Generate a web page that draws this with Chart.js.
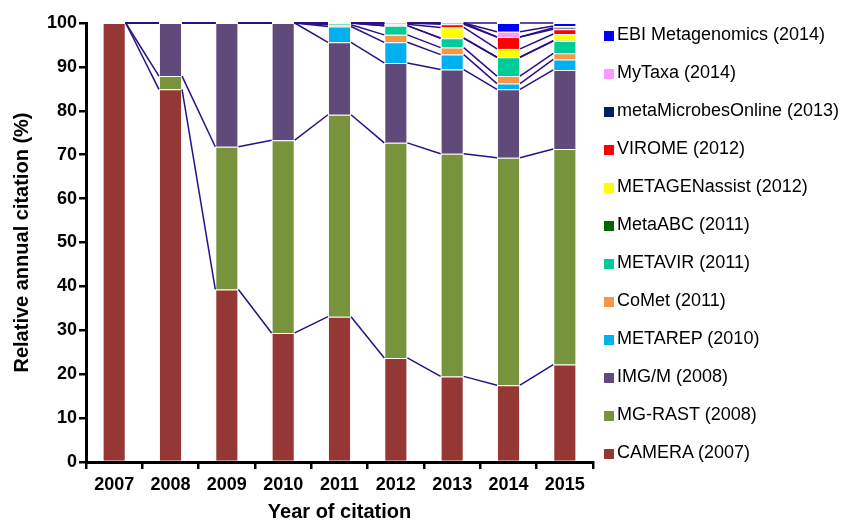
<!DOCTYPE html>
<html>
<head>
<meta charset="utf-8">
<script src="https://cdn.jsdelivr.net/npm/chart.js@4"></script>
<style>
  body { margin: 0; background: #fff; }
  #wrap { position: relative; width: 841px; height: 522px; }
  #legend { position: absolute; left: 604px; top: 15px; font-family: "Liberation Sans", Arial, sans-serif; font-size: 18px; color: #000; }
  .item { height: 38px; line-height: 38px; white-space: nowrap; }
  .box { display: inline-block; width: 10px; height: 10px; margin-right: 3px; vertical-align: -1px; }
</style>
</head>
<body>
<div id="wrap">
  <canvas id="chart" width="841" height="522"></canvas>
  <div id="legend"></div>
</div>
<script>
// --- Datos (% por año) ---
const years = ['2007', '2008', '2009', '2010', '2011', '2012', '2013', '2014', '2015'];

const camera       = [100, 84.9, 39.3, 29.4, 33.1, 23.7, 19.5, 17.5, 22.2];
const mgRast       = [0, 3.0, 32.5, 43.9, 46.0, 49.0, 50.7, 51.8, 49.1];
const imgM         = [0, 12.1, 28.2, 26.7, 16.5, 18.2, 19.2, 15.6, 18.0];
const metarep      = [0, 0, 0, 0, 3.6, 4.7, 3.4, 1.3, 2.4];
const comet        = [0, 0, 0, 0, 0.4, 1.7, 1.6, 1.7, 1.4];
const metavir      = [0, 0, 0, 0, 0.4, 2.1, 2.1, 4.3, 2.8];
const metaAbc      = [0, 0, 0, 0, 0, 0, 0.1, 0, 0.1];
const metagenassist = [0, 0, 0, 0, 0, 0.3, 2.4, 1.9, 1.5];
const virome       = [0, 0, 0, 0, 0, 0.3, 0.7, 2.7, 1.1];
const metaMicrobes = [0, 0, 0, 0, 0, 0, 0.3, 0, 0.3];
const myTaxa       = [0, 0, 0, 0, 0, 0, 0, 1.2, 0.4];
const ebi          = [0, 0, 0, 0, 0, 0, 0, 2.0, 0.7];

const seriesNames = [
  'CAMERA (2007)', 'MG-RAST (2008)', 'IMG/M (2008)', 'METAREP (2010)', 'CoMet (2011)',
  'METAVIR (2011)', 'MetaABC (2011)', 'METAGENassist (2012)', 'VIROME (2012)',
  'metaMicrobesOnline (2013)', 'MyTaxa (2014)', 'EBI Metagenomics (2014)'
];
const seriesValues = [camera, mgRast, imgM, metarep, comet, metavir, metaAbc,
  metagenassist, virome, metaMicrobes, myTaxa, ebi];
const seriesColors = ['#953735', '#77933C', '#604A7B', '#00B0F0', '#F79646', '#00CC99',
  '#006600', '#FFFF00', '#FF0000', '#002060', '#FF99FF', '#0000FF'];

const FONT = '"Liberation Sans", Arial, sans-serif';

// Líneas de serie (como en Excel): unen la cima de cada segmento entre barras vecinas
const seriesLines = {
  id: 'seriesLines',
  afterDatasetsDraw(chart) {
    const ctx = chart.ctx;
    ctx.save();
    ctx.strokeStyle = '#2a0f85';
    ctx.lineWidth = 1.5;
    chart.data.datasets.forEach((ds, d) => {
      const bars = chart.getDatasetMeta(d).data;
      for (let i = 0; i < bars.length - 1; i++) {
        const a = bars[i], b = bars[i + 1];
        ctx.beginPath();
        ctx.moveTo(a.x + a.width / 2, a.y);
        ctx.lineTo(b.x - b.width / 2, b.y);
        ctx.stroke();
      }
    });
    ctx.restore();
  }
};

new Chart(document.getElementById('chart'), {
  type: 'bar',
  data: {
    labels: years,
    datasets: seriesNames.map((name, i) => ({
      label: name,
      data: seriesValues[i],
      backgroundColor: seriesColors[i],
      borderColor: 'rgba(255,255,255,0.3)',
      borderWidth: 1,
      barPercentage: 0.41,
      categoryPercentage: 1
    }))
  },
  options: {
    responsive: false,
    animation: false,
    layout: { padding: { left: 0, top: 23, right: 248, bottom: 0 } },
    plugins: { legend: { display: false }, tooltip: { enabled: false } },
    scales: {
      x: {
        stacked: true,
        afterFit: s => { s.height = 60; },
        border: { color: '#000', width: 3 },
        grid: { drawOnChartArea: false, color: '#000', lineWidth: 2.5, tickLength: 7 },
        ticks: { color: '#000', padding: 5, font: { family: FONT, size: 18, weight: 'bold' } },
        title: {
          display: true, text: 'Year of citation', color: '#000',
          padding: { top: 0, bottom: 0 },
          font: { family: FONT, size: 20, weight: 'bold', lineHeight: 1 }
        }
      },
      y: {
        stacked: true,
        min: 0, max: 100,
        afterFit: s => { s.width = 86; },
        border: { color: '#000', width: 3 },
        grid: { drawOnChartArea: false, color: '#000', lineWidth: 2.5, tickLength: 7 },
        ticks: { stepSize: 10, color: '#000', padding: 2, font: { family: FONT, size: 18, weight: 'bold' } },
        title: {
          display: true, text: 'Relative annual citation (%)', color: '#000',
          padding: { top: 10, bottom: 0 },
          font: { family: FONT, size: 20, weight: 'bold' }
        }
      }
    }
  },
  plugins: [seriesLines]
});

// Leyenda a la derecha, en orden inverso (como la pila)
const legend = document.getElementById('legend');
legend.innerHTML = seriesNames.map((n, i) => ({ n, c: seriesColors[i] })).reverse()
  .map(e => `<div class="item"><span class="box" style="background:${e.c}"></span>${e.n}</div>`)
  .join('');
</script>
</body>
</html>
